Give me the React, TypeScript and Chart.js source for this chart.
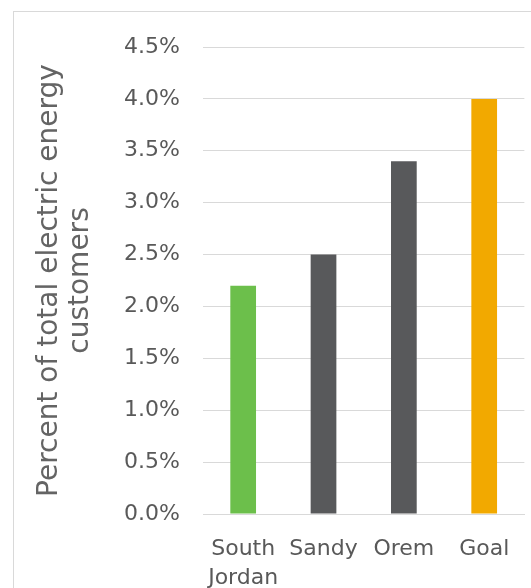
import React, { useEffect, useRef } from "react";
import { Chart, registerables } from "chart.js";

Chart.register(...registerables);

const categories: (string | string[])[] = [["South", "Jordan"], "Sandy", "Orem", "Goal"];
const values = [2.2, 2.5, 3.4, 4.0];
const barColors = ["#6CBF4B", "#58595B", "#58595B", "#F2A900"];
const yTitle = ["Percent of total electric energy", "customers"];
const yMax = 4.5;
const yStep = 0.5;

const FONT = "'DejaVu Sans', Verdana, sans-serif";
const TEXT = "#595959";
const TITLE = "#646464";
const GRID = "#D9D9D9";

export default function App() {
  const ref = useRef<HTMLCanvasElement | null>(null);

  useEffect(() => {
    if (!ref.current) return;
    const chart = new Chart(ref.current, {
      type: "bar",
      data: {
        labels: categories,
        datasets: [
          {
            data: values,
            backgroundColor: barColors,
            borderWidth: 0,
            barPercentage: 0.32,
            categoryPercentage: 1,
          },
        ],
      },
      options: {
        responsive: false,
        animation: false,
        maintainAspectRatio: false,
        layout: { padding: { left: 0, right: 6, top: 47, bottom: 0 } },
        plugins: { legend: { display: false }, tooltip: { enabled: false } },
        scales: {
          x: {
            grid: { display: false, drawTicks: false },
            border: { display: true, color: GRID, width: 1 },
            ticks: {
              color: TEXT,
              font: { family: FONT, size: 22, lineHeight: 1.3 },
              padding: 21,
              maxRotation: 0,
              autoSkip: false,
            },
            afterFit: (s: any) => {
              s.height = 74;
            },
          },
          y: {
            min: 0,
            max: yMax,
            grid: { color: GRID, drawTicks: false },
            border: { display: false },
            ticks: {
              stepSize: yStep,
              color: TEXT,
              font: { family: FONT, size: 22 },
              padding: 23,
              callback: (v: any) => Number(v).toFixed(1) + "%",
            },
            title: {
              display: true,
              text: yTitle,
              color: TITLE,
              font: { family: FONT, size: 28, lineHeight: 1.12 },
              padding: { top: 34, bottom: 0 },
            },
            afterFit: (s: any) => {
              s.width = 203;
            },
          },
        },
      },
    });
    return () => chart.destroy();
  }, []);

  return (
    <div>
      <div
        style={{
          position: "fixed",
          left: 13,
          top: 11,
          width: 600,
          height: 600,
          border: "1px solid #D9D9D9",
          boxSizing: "border-box",
        }}
      />
      <canvas
        ref={ref}
        width={531}
        height={588}
        style={{ position: "fixed", left: 0, top: 0, width: 531, height: 588 }}
      />
    </div>
  );
}
